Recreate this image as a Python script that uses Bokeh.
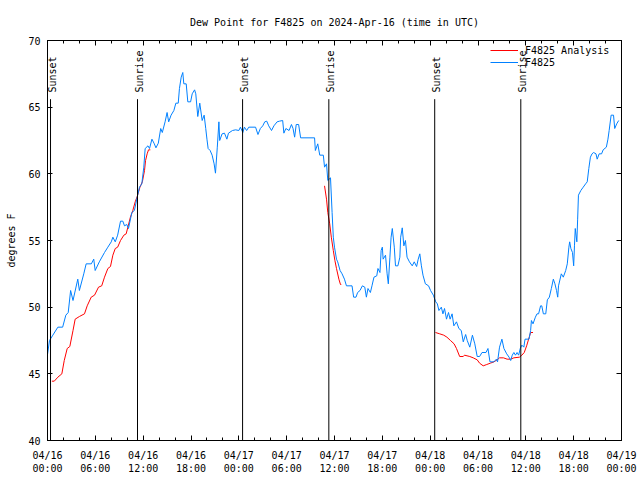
import numpy as np
import pandas as pd
from math import pi
from bokeh.plotting import figure
from bokeh.models import (Range1d, DatetimeAxis, LinearAxis, FixedTicker,
                          DatetimeTickFormatter, CustomJSTickFormatter,
                          Legend, LegendItem, ColumnDataSource)
from bokeh.core.properties import value
from bokeh.embed import file_html
from bokeh.resources import INLINE

FONT = "DejaVu Sans Mono"
START = pd.Timestamp("2024-04-16 00:00")

# ---- observed dew point, F4825 (hours after 04/16 00:00 UTC, deg F) ----
obs_hours = [0.0, 0.25, 0.67, 1.3, 1.9, 2.3, 2.6, 2.9, 3.2, 3.8, 4.0, 4.55, 4.85, 5.5, 5.8, 5.98,
             6.5, 7.15, 7.57, 8.0, 8.2, 8.5, 8.8, 9.16, 9.45, 9.66, 9.95, 10.16, 10.58, 10.9,
             11.25, 11.54, 11.83, 12.08, 12.25, 12.6, 12.8, 13.1, 13.4, 13.6, 13.9, 14.2, 14.4,
             14.75, 15.0, 15.2, 15.5, 15.85, 16.1, 16.4, 16.55, 16.77, 16.97, 17.1, 17.4, 17.6,
             17.95, 18.15, 18.45, 18.6, 18.85, 19.1, 19.4, 19.65, 19.85, 20.0, 20.15, 20.4,
             20.65, 20.9, 21.07, 21.3, 21.5, 21.6, 21.9, 22.2, 22.5, 22.7, 23.2, 23.6, 24.0,
             24.2, 24.5, 24.7, 24.98, 25.25, 26.1, 26.4, 26.7, 27.0, 27.25, 27.5, 27.75, 28.1,
             28.4, 28.8, 29.1, 29.5, 29.65, 29.9, 30.3, 30.6, 30.8, 31.0, 31.2, 31.5, 31.75,
             33.5, 33.6, 33.9, 34.15, 34.6, 34.75, 35.0, 35.16, 35.5, 35.7, 35.85, 36.0, 36.25,
             36.4, 36.7, 36.95, 37.25, 37.5, 38.2, 38.4, 38.7, 38.9, 39.2, 39.5, 39.8, 40.0,
             40.2, 40.5, 40.7, 40.95, 41.3, 41.45, 41.7, 41.85, 42.0, 42.1, 42.4, 42.6, 42.75,
             42.95, 43.1, 43.25, 43.5, 43.65, 43.95, 44.2, 44.3, 44.5, 44.7, 44.9, 45.1, 45.4,
             45.75, 46.0, 46.3, 46.5, 46.7, 46.9, 47.1, 47.4, 47.8, 48.05, 48.4, 48.7, 48.9,
             49.1, 49.4, 49.6, 49.8, 50.05, 50.3, 50.5, 50.75, 50.97, 51.3, 51.6, 51.9, 52.15,
             52.45, 52.65, 52.97, 53.3, 53.6, 53.9, 54.2, 54.5, 55.0, 55.25, 55.5, 56.0, 56.3,
             56.45, 56.7, 57.0, 57.25, 57.6, 57.9, 58.1, 58.3, 58.5, 58.7, 58.9, 59.1, 59.3,
             59.5, 59.75, 59.9, 60.4, 60.6, 60.7, 60.9, 61.2, 61.4, 61.6, 61.85, 62.0, 62.2,
             62.5, 62.7, 62.95, 63.2, 63.45, 63.65, 63.85, 64.0, 64.1, 64.45, 64.7, 65.0, 65.2,
             65.4, 65.5, 65.65, 65.85, 66.0, 66.1, 66.2, 66.4, 66.5, 66.6, 66.9, 67.2, 67.5,
             67.7, 67.9, 68.1, 68.3, 68.5, 68.8, 68.95, 69.2, 69.5, 69.7, 70.1, 70.3, 70.45,
             70.7, 71.0, 71.15, 71.4, 71.65]
obs_dewpt = [46.45, 47.5, 47.9, 48.5, 48.5, 49.4, 49.6, 51.25, 50.5, 52.1, 51.25, 52.5, 53.25, 53.25, 53.6, 52.75,
             53.4, 54.1, 54.5, 54.9, 55.25, 54.9, 55.4, 56.45, 56.45, 56.1, 56.2, 55.9, 57.1, 57.25,
             58.25, 59.0, 59.25, 60.5, 61.9, 62.1, 61.9, 62.6, 62.25, 61.95, 62.3, 63.4, 63.1,
             63.9, 64.6, 63.9, 64.4, 64.75, 65.3, 65.3, 66.4, 67.25, 67.6, 66.75, 66.75, 65.4,
             65.4, 66.0, 66.3, 66.0, 64.3, 65.3, 64.0, 64.4, 63.4, 62.6, 61.9, 61.75,
             61.4, 60.75, 60.05, 62.0, 63.9, 62.5, 63.0, 63.05, 62.6, 63.05, 63.25, 63.3, 63.25,
             63.5, 63.1, 63.5, 63.25, 63.5, 63.5, 62.95, 63.4, 63.6, 63.9, 63.95, 63.6, 63.25,
             63.6, 63.9, 63.95, 64.0, 63.05, 63.4, 63.25, 63.7, 63.4, 62.75, 63.7, 63.7, 62.7,
             62.7, 61.75, 62.25, 61.4, 61.4, 60.5, 60.75, 59.5, 59.7, 57.1, 55.25, 54.5, 53.6,
             53.4, 52.75, 52.5, 52.1, 51.6, 51.6, 50.75, 50.75, 51.1, 51.25, 51.6, 51.5, 50.75,
             51.4, 51.1, 51.6, 52.25, 52.35, 52.9, 52.6, 54.25, 54.5, 53.6, 53.9, 52.5, 51.75,
             53.75, 55.25, 55.9, 54.5, 53.1, 53.1, 53.75, 55.25, 55.95, 54.6, 55.0, 53.75, 53.4,
             53.1, 53.4, 53.05, 53.6, 54.0, 53.1, 52.4, 51.75, 51.6, 51.25, 50.9, 50.4, 50.25,
             49.75, 50.0, 49.5, 49.9, 49.1, 49.6, 49.1, 49.5, 48.6, 48.9, 48.4, 48.25, 47.4,
             47.95, 47.5, 47.0, 47.9, 47.25, 46.3, 46.3, 46.6, 46.6, 46.9, 45.9, 45.9, 46.1,
             45.9, 47.0, 47.6, 46.9, 46.5, 46.25, 46.0, 46.4, 46.6, 46.4, 46.6, 46.4, 46.9,
             47.15, 47.0, 47.6, 47.6, 48.25, 49.0, 48.75, 49.25, 49.5, 49.5, 50.1, 50.1, 49.5,
             49.5, 50.55, 50.75, 51.4, 52.1, 51.75, 51.25, 50.75, 51.6, 52.5, 52.25, 52.75, 53.25,
             54.5, 54.9, 54.4, 54.1, 53.1, 54.6, 55.9, 54.9, 56.6, 58.4, 58.75, 59.0, 59.25,
             59.4, 60.4, 61.25, 61.5, 61.6, 61.5, 61.1, 61.5, 61.5, 61.8, 62.0, 62.6, 63.25,
             64.4, 64.4, 63.4, 63.75, 64.0]

# ---- analysis dew point, F4825 Analysis (three morning segments) ----
ana1_hours = [0.55, 0.85, 1.3, 1.8, 2.1, 2.47, 2.8, 3.2, 3.47, 4.0, 4.64, 4.98, 5.48, 5.9, 6.4, 6.8,
              7.15, 7.57, 7.9, 8.2, 8.5, 8.8, 9.16, 9.58, 9.87, 10.08, 10.4, 10.7, 11.0, 11.25,
              11.6, 11.9, 12.17, 12.3, 12.5, 12.67, 12.9]
ana1_dewpt = [44.45, 44.45, 44.75, 45.0, 46.0, 46.9, 47.05, 48.25, 49.1, 49.3, 49.5, 50.1, 50.75, 50.9, 51.5, 51.6,
              52.25, 52.9, 53.05, 53.9, 54.4, 54.5, 55.0, 55.4, 55.5, 56.0, 56.75, 57.25, 57.9, 58.3,
              59.0, 59.4, 60.25, 61.0, 61.5, 61.8, 61.8]
ana2_hours = [34.75, 35.0, 35.16, 35.4, 35.6, 35.85, 36.05, 36.25, 36.55, 36.75, 36.85]
ana2_dewpt = [59.1, 58.1, 57.1, 56.25, 55.25, 54.25, 53.5, 52.9, 52.1, 51.7, 51.7]
ana3_hours = [48.67, 49.2, 49.7, 50.1, 50.55, 51.0, 51.3, 51.7, 52.15, 52.3, 52.97, 53.4, 53.9, 54.2,
              54.65, 55.1, 55.55, 56.0, 56.4, 56.7, 57.2, 57.65, 58.1, 58.5, 59.2, 59.5, 59.8,
              60.1, 60.4, 60.6, 60.9]
ana3_dewpt = [48.1, 48.0, 47.9, 47.75, 47.5, 47.25, 46.9, 46.3, 46.3, 46.4, 46.3, 46.2, 46.05, 45.8,
              45.6, 45.7, 45.8, 45.9, 46.05, 46.2, 46.2, 46.1, 46.1, 46.2, 46.25, 46.4, 46.6,
              47.1, 47.7, 48.1, 48.1]

# ---- sun events (hours after 04/16 00:00 UTC) ----
event_hours = [0.38, 11.29, 24.47, 35.29, 48.57, 59.37]
event_names = ["Sunset", "Sunrise", "Sunset", "Sunrise", "Sunset", "Sunrise"]

tick_hours = list(range(0, 73, 6))
minor_tick_hours = list(range(0, 73, 2))
y_ticks = [40, 45, 50, 55, 60, 65, 70]


def to_time(hours):
    return START + pd.to_timedelta(np.asarray(hours, dtype=float), unit="h")


def to_ms(hours):
    return [(START + pd.Timedelta(hours=h)).value / 1e6 for h in hours]


obs_src = ColumnDataSource(dict(t=to_time(obs_hours), v=obs_dewpt))
nan = float("nan")
ana_hours = ana1_hours + [ana1_hours[-1] + 0.01] + ana2_hours + [ana2_hours[-1] + 0.01] + ana3_hours
ana_dewpt = ana1_dewpt + [nan] + ana2_dewpt + [nan] + ana3_dewpt
ana_src = ColumnDataSource(dict(t=to_time(ana_hours), v=ana_dewpt))

Y_MIN, Y_MAX = 40, 70
LINE_TOP = 65.6
LABEL_Y = 66.1
ev_src = ColumnDataSource(dict(t=to_time(event_hours), name=event_names,
                               y0=[Y_MIN] * len(event_hours), y1=[LINE_TOP] * len(event_hours),
                               ly=[LABEL_Y] * len(event_hours)))

p = figure(width=640, height=480, x_axis_type="datetime",
           output_backend="svg", toolbar_location=None,
           x_range=Range1d(to_time([0])[0], to_time([72])[0]),
           y_range=Range1d(Y_MIN, Y_MAX),
           min_border_left=47, min_border_right=19, min_border_top=40, min_border_bottom=40)

p.title.text = "Dew Point for F4825 on 2024-Apr-16 (time in UTC)"
p.title.text_font = FONT
p.title.text_font_size = "10px"
p.title.text_font_style = "normal"
p.title.text_color = "black"
p.title.align = "center"
p.title.offset = 0
p.title.standoff = 25

p.xgrid.visible = False
p.ygrid.visible = False
p.outline_line_color = "black"
p.outline_line_width = 1
p.background_fill_color = "white"
p.border_fill_color = "white"

fmt = "%m/%d\n%H:%M"
xfmt = DatetimeTickFormatter(hours=fmt, hourmin=fmt, days=fmt, minutes=fmt, minsec=fmt,
                             seconds=fmt, milliseconds=fmt, microseconds=fmt, months=fmt, years=fmt)

xa = p.xaxis[0]
xa.ticker = FixedTicker(ticks=to_ms(tick_hours), minor_ticks=to_ms(minor_tick_hours))
xa.formatter = xfmt
ya = p.yaxis[0]
ya.ticker = FixedTicker(ticks=y_ticks)
ya.axis_label = "degrees F"

top_axis = DatetimeAxis(ticker=FixedTicker(ticks=to_ms(tick_hours), minor_ticks=to_ms(minor_tick_hours)),
                        formatter=CustomJSTickFormatter(code="return ''"))
right_axis = LinearAxis(ticker=FixedTicker(ticks=y_ticks),
                        formatter=CustomJSTickFormatter(code="return ''"))
p.add_layout(top_axis, "above")
p.add_layout(right_axis, "right")

for ax in [xa, ya, top_axis, right_axis]:
    ax.major_tick_in = 5
    ax.major_tick_out = 0
    ax.minor_tick_in = 3
    ax.minor_tick_out = 0
    ax.axis_line_color = "black"
    ax.major_tick_line_color = "black"
    ax.minor_tick_line_color = "black"
    ax.major_label_text_font = FONT
    ax.major_label_text_font_size = "10px"
    ax.major_label_text_color = "black"
    ax.axis_label_text_font = FONT
    ax.axis_label_text_font_size = "10px"
    ax.axis_label_text_font_style = "normal"
    ax.axis_label_text_color = "black"
for ax in [ya, right_axis]:
    ax.minor_tick_in = 0
top_axis.major_label_standoff = 0
right_axis.major_label_standoff = 0
xa.major_label_standoff = 9
xa.major_label_text_line_height = 1.2
ya.major_label_standoff = 7
ya.axis_label_standoff = 8

r_ana = p.line("t", "v", source=ana_src, line_color="#ff0000", line_width=1)
r_obs = p.line("t", "v", source=obs_src, line_color="#0080ff", line_width=1)

p.segment(x0="t", y0="y0", x1="t", y1="y1", source=ev_src, line_color="black", line_width=1)
p.text(x="t", y="ly", text="name", source=ev_src, angle=pi / 2,
       text_align="left", text_baseline="middle", x_offset=2,
       text_font=value(FONT), text_font_size="10px", text_color="black")

legend = Legend(items=[LegendItem(label="F4825 Analysis", renderers=[r_ana]),
                       LegendItem(label="F4825", renderers=[r_obs])],
                location=(441, 370))
legend.label_text_font = FONT
legend.label_text_font_size = "10px"
legend.label_text_color = "black"
legend.glyph_width = 28
legend.glyph_height = 12
legend.label_height = 12
legend.label_standoff = 7
legend.spacing = 0
legend.padding = 2
legend.margin = 0
legend.background_fill_alpha = 0
legend.border_line_alpha = 0
p.add_layout(legend)

open("out.html", "w").write(file_html(p, INLINE))
